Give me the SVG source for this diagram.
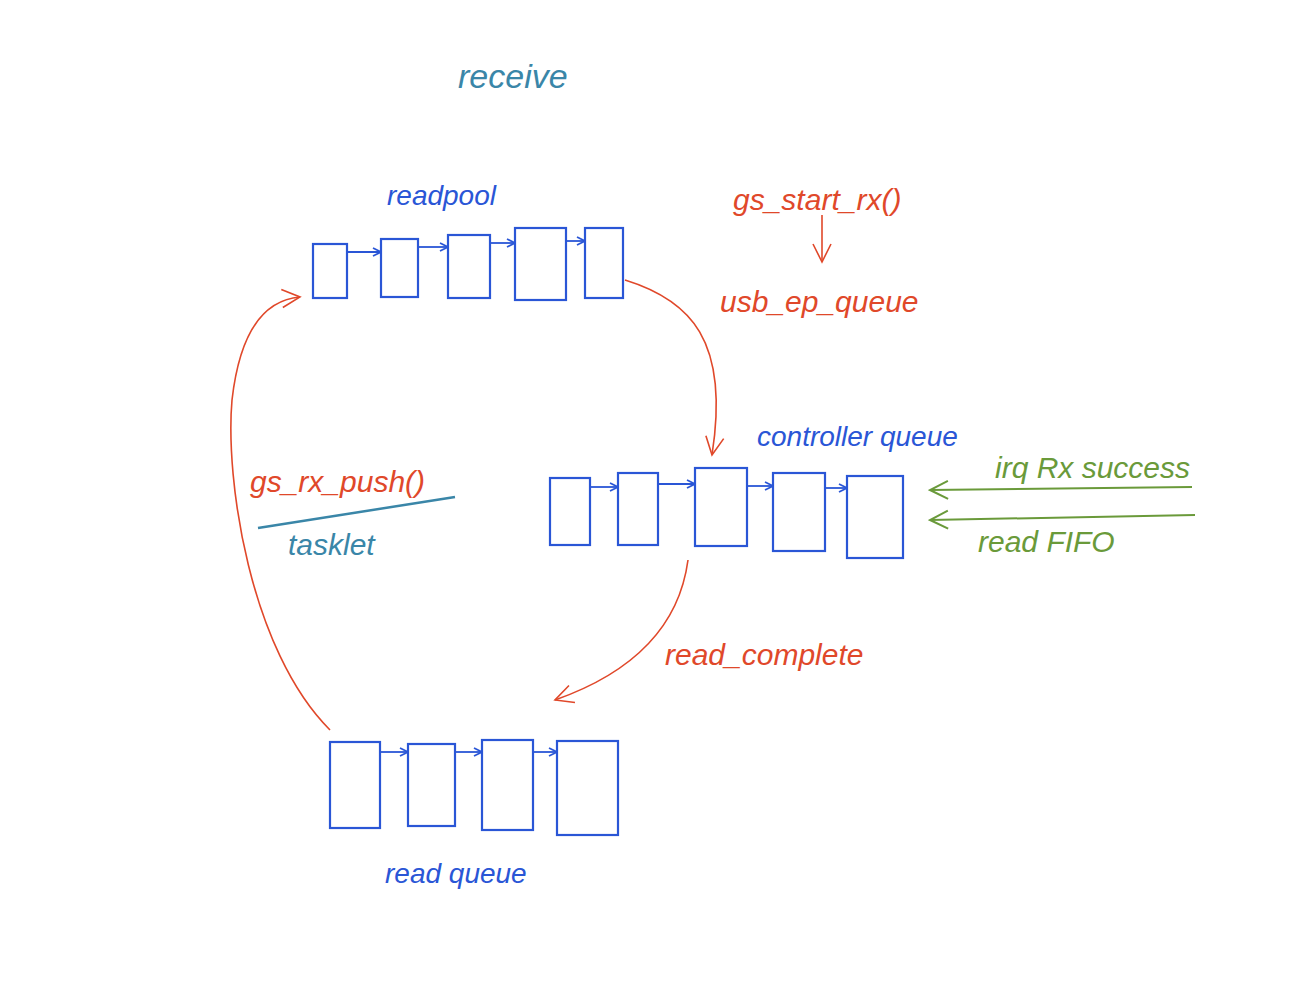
<svg xmlns="http://www.w3.org/2000/svg" width="1290" height="1000" viewBox="0 0 1290 1000">
<style>
text{font-family:"Liberation Sans",Arial,sans-serif;font-style:italic}
.b{fill:none;stroke:#2a56d6;stroke-width:2.2}
.bt{fill:#2a56d6;font-size:28px}
.r{fill:none;stroke:#e0482a;stroke-width:1.6}
.rt{fill:#e0482a;font-size:30px}
.g{fill:none;stroke:#6a9a3a;stroke-width:2}
.gt{fill:#6a9a3a;font-size:30px}
.tt{fill:#3a86a8;font-size:34px}
.l{fill:none;stroke:#2a56d6;stroke-width:1.8}
</style>
<defs>
<marker id="ab" markerWidth="10" markerHeight="10" refX="9" refY="5" orient="auto" markerUnits="userSpaceOnUse"><path d="M1,1 L9,5 L1,9" fill="none" stroke="#2a56d6" stroke-width="1.8"/></marker>
<marker id="ar" markerWidth="22" markerHeight="22" refX="20" refY="11" orient="auto" markerUnits="userSpaceOnUse"><path d="M2,2 L20,11 L2,20" fill="none" stroke="#e0482a" stroke-width="1.6"/></marker>
<marker id="ag" markerWidth="22" markerHeight="22" refX="20" refY="11" orient="auto" markerUnits="userSpaceOnUse"><path d="M2,2 L20,11 L2,20" fill="none" stroke="#6a9a3a" stroke-width="2"/></marker>
</defs>
<text x="458" y="88" class="tt">receive</text>
<g id="readpool">
<text x="387" y="205" class="bt">readpool</text>
<rect x="313" y="244" width="34" height="54" class="b"/>
<rect x="381" y="239" width="37" height="58" class="b"/>
<rect x="448" y="235" width="42" height="63" class="b"/>
<rect x="515" y="228" width="51" height="72" class="b"/>
<rect x="585" y="228" width="38" height="70" class="b"/>
<path d="M347,252 H381" class="l" marker-end="url(#ab)"/>
<path d="M418,247 H448" class="l" marker-end="url(#ab)"/>
<path d="M490,243 H515" class="l" marker-end="url(#ab)"/>
<path d="M566,241 H585" class="l" marker-end="url(#ab)"/>
</g>
<g id="controller">
<text x="757" y="446" class="bt">controller queue</text>
<rect x="550" y="478" width="40" height="67" class="b"/>
<rect x="618" y="473" width="40" height="72" class="b"/>
<rect x="695" y="468" width="52" height="78" class="b"/>
<rect x="773" y="473" width="52" height="78" class="b"/>
<rect x="847" y="476" width="56" height="82" class="b"/>
<path d="M590,487 H618" class="l" marker-end="url(#ab)"/>
<path d="M658,484 H695" class="l" marker-end="url(#ab)"/>
<path d="M747,486 H773" class="l" marker-end="url(#ab)"/>
<path d="M825,488 H847" class="l" marker-end="url(#ab)"/>
</g>
<g id="readqueue">
<text x="385" y="883" class="bt">read queue</text>
<rect x="330" y="742" width="50" height="86" class="b"/>
<rect x="408" y="744" width="47" height="82" class="b"/>
<rect x="482" y="740" width="51" height="90" class="b"/>
<rect x="557" y="741" width="61" height="94" class="b"/>
<path d="M380,752 H408" class="l" marker-end="url(#ab)"/>
<path d="M455,752 H482" class="l" marker-end="url(#ab)"/>
<path d="M533,752 H557" class="l" marker-end="url(#ab)"/>
</g>
<g id="labels">
<text x="733" y="210" class="rt">gs_start_rx()</text>
<text x="720" y="312" class="rt">usb_ep_queue</text>
<text x="250" y="492" class="rt">gs_rx_push()</text>
<text x="288" y="555" class="tt" style="font-size:30px">tasklet</text>
<text x="665" y="665" class="rt">read_complete</text>
<text x="995" y="478" class="gt">irq Rx success</text>
<text x="978" y="552" class="gt">read FIFO</text>
</g>
<g id="connectors">
<path d="M822,215 V262" class="r" marker-end="url(#ar)"/>
<path d="M625,280 C690,300 730,340 712,455" class="r" marker-end="url(#ar)"/>
<path d="M688,560 C680,620 640,670 555,700" class="r" marker-end="url(#ar)"/>
<path d="M330,730 C250,650 225,480 232,400 C240,330 265,300 300,297" class="r" marker-end="url(#ar)"/>
<path d="M258,528 L455,497" fill="none" stroke="#3a86a8" stroke-width="2.5"/>
<path d="M1192,487 L930,490" class="g" marker-end="url(#ag)"/>
<path d="M1195,515 L930,520" class="g" marker-end="url(#ag)"/>
</g>
</svg>
